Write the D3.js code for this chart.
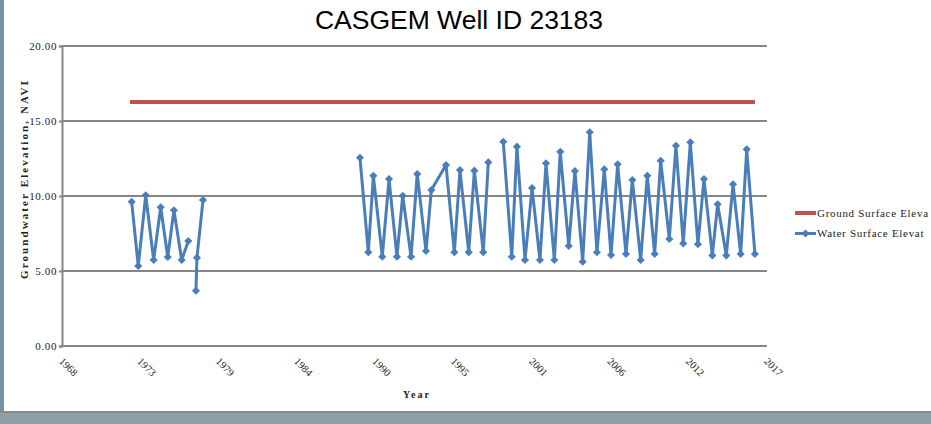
<!DOCTYPE html>
<html>
<head>
<meta charset="utf-8">
<script src="https://cdn.jsdelivr.net/npm/d3@7"></script>
<style>
  body { margin: 0; background: #fff; }
  svg text { font-family: "Liberation Serif", "DejaVu Serif", serif; }
</style>
</head>
<body>
<div class="chart"></div>
<script>
var svgWidth = 931;
var svgHeight = 424;

var margin = { top: 46, right: 164, bottom: 78, left: 62 };
var width = svgWidth - margin.left - margin.right;
var height = svgHeight - margin.top - margin.bottom;

// measurement dates (decimal years), null value = gap in the series
var waterYears = [1972.84, 1973.30, 1973.82, 1974.37, 1974.86, 1975.35, 1975.78, 1976.32, 1976.78, 1977.0,
  1977.31, 1977.38, 1977.80, 1983.0,
  1988.71, 1989.29, 1989.64, 1990.26, 1990.73, 1991.28, 1991.68, 1992.26, 1992.69, 1993.30,
  1993.67, 1994.69, 1995.27, 1995.66, 1996.27, 1996.66, 1997.28, 1997.63, 1998.1,
  1998.67, 1999.26, 1999.62, 2000.18, 2000.67, 2001.22, 2001.64, 2002.22, 2002.63, 2003.22,
  2003.65, 2004.19, 2004.68, 2005.18, 2005.69, 2006.16, 2006.62, 2007.20, 2007.64, 2008.22,
  2008.68, 2009.19, 2009.61, 2010.21, 2010.67, 2011.18, 2011.67, 2012.20, 2012.62, 2013.20,
  2013.57, 2014.17, 2014.64, 2015.17, 2015.59, 2016.16];
var waterLevels = [9.62, 5.33, 10.05, 5.73, 9.25, 5.93, 9.05, 5.73, 7.00, null,
  3.69, 5.89, 9.73, null,
  12.55, 6.25, 11.35, 5.95, 11.13, 5.95, 10.02, 5.95, 11.47, 6.33,
  10.40, 12.07, 6.25, 11.73, 6.25, 11.69, 6.25, 12.25, null,
  13.62, 5.95, 13.29, 5.73, 10.53, 5.73, 12.18, 5.73, 12.95, 6.67,
  11.67, 5.62, 14.25, 6.25, 11.78, 6.07, 12.11, 6.13, 11.07, 5.73,
  11.35, 6.13, 12.35, 7.13, 13.35, 6.84, 13.58, 6.78, 11.13, 6.04,
  9.45, 6.04, 10.78, 6.13, 13.11, 6.13];

var groundYears = [1972.73, 2016.16];
var groundLevels = [16.27, 16.27];

var yTicks = [0, 5, 10, 15, 20];
var xTickLabels = ["1968", "1973", "1979", "1984", "1990", "1995", "2001", "2006", "2012", "2017"];

// legend names as they appear (truncated by the legend box)
var seriesNames = ["Ground Surface Eleva", "Water Surface Elevat"];
var seriesColors = ["#c0504d", "#4a7ebb"];

var svg = d3.select(".chart")
  .append("svg")
  .attr("width", svgWidth)
  .attr("height", svgHeight);

svg.append("rect").attr("width", svgWidth).attr("height", svgHeight).attr("fill", "#fff");
// window edges visible in the screenshot
svg.append("rect").attr("x", 0).attr("y", 0).attr("width", 4).attr("height", svgHeight).attr("fill", "#7890a4");
svg.append("rect").attr("x", 0).attr("y", 411).attr("width", svgWidth).attr("height", 2).attr("fill", "#8c8c8c");
svg.append("rect").attr("x", 0).attr("y", 413).attr("width", svgWidth).attr("height", 11).attr("fill", "#8da0a6");

var chartGroup = svg.append("g")
  .attr("transform", `translate(${margin.left}, ${margin.top})`);

var xScale = d3.scaleLinear().domain([1968, 2017]).range([0, width]);
var yScale = d3.scaleLinear().domain([0, 20]).range([height, 0]);

var xTickValues = xTickLabels.map((d, i) => 1968 + i * 49 / (xTickLabels.length - 1));

// gridlines
chartGroup.selectAll(".grid")
  .data(yTicks)
  .enter()
  .append("line")
  .attr("x1", 0)
  .attr("x2", width)
  .attr("y1", d => yScale(d))
  .attr("y2", d => yScale(d))
  .attr("stroke", "#868686")
  .attr("stroke-width", 2);

var leftAxis = d3.axisLeft(yScale).tickValues(yTicks).tickFormat(d3.format(".2f")).tickSize(3).tickPadding(2);
var yAxisG = chartGroup.append("g").call(leftAxis);
yAxisG.select(".domain").attr("stroke", "#868686").attr("stroke-width", 2);
yAxisG.selectAll(".tick line").attr("stroke", "#868686").attr("stroke-width", 2);
yAxisG.selectAll("text").attr("font-size", 11).attr("fill", "#222").attr("letter-spacing", 0.6)
  .attr("font-family", "Liberation Serif").attr("dy", "0.32em");

var bottomAxis = d3.axisBottom(xScale).tickValues(xTickValues).tickFormat((d, i) => xTickLabels[i]).tickSize(0);
var xAxisG = chartGroup.append("g").attr("transform", `translate(0, ${height})`).call(bottomAxis);
xAxisG.select(".domain").remove();
xAxisG.selectAll("text")
  .attr("font-size", 10.5)
  .attr("font-family", "Liberation Serif")
  .attr("fill", "#222")
  .attr("text-anchor", "start")
  .attr("dy", null)
  .attr("y", null)
  .attr("transform", "translate(-4, 16) rotate(45)");

// ground surface
var line = d3.line()
  .defined(d => d[1] != null)
  .x(d => xScale(d[0]))
  .y(d => yScale(d[1]));

chartGroup.append("path")
  .datum(groundYears.map((d, i) => [d, groundLevels[i]]))
  .attr("d", line)
  .attr("fill", "none")
  .attr("stroke", seriesColors[0])
  .attr("stroke-width", 4);

var waterData = waterYears.map((d, i) => [d, waterLevels[i]]);
chartGroup.append("path")
  .datum(waterData)
  .attr("d", line)
  .attr("fill", "none")
  .attr("stroke", seriesColors[1])
  .attr("stroke-width", 3)
  .attr("stroke-linejoin", "round");

var diamond = d3.symbol().type(d3.symbolDiamond2).size(42);
chartGroup.selectAll(".pt")
  .data(waterData.filter(d => d[1] != null))
  .enter()
  .append("path")
  .attr("d", diamond)
  .attr("transform", d => `translate(${xScale(d[0])}, ${yScale(d[1])})`)
  .attr("fill", seriesColors[1]);

// title
svg.append("text")
  .attr("x", 459)
  .attr("y", 29)
  .attr("text-anchor", "middle")
  .style("font-family", "Liberation Sans, Arial, sans-serif")
  .attr("font-size", 26.5)
  .attr("fill", "#000")
  .text("CASGEM Well ID 23183");

// axis titles
svg.append("clipPath").attr("id", "yclip")
  .append("rect").attr("x", 0).attr("y", 81).attr("width", 60).attr("height", 300);

svg.append("g")
  .attr("clip-path", "url(#yclip)")
  .append("text")
  .attr("transform", "translate(28, 279) rotate(-90)")
  .attr("font-size", 11)
  .attr("font-weight", "bold")
  .attr("letter-spacing", 2.1)
  .attr("fill", "#222")
  .text("Groundwater Elevation, NAVD");

svg.append("text")
  .attr("x", 417)
  .attr("y", 398)
  .attr("text-anchor", "middle")
  .attr("font-size", 10)
  .attr("font-weight", "bold")
  .attr("letter-spacing", 2)
  .attr("fill", "#222")
  .text("Year");

// legend
var legend = svg.append("g").attr("transform", "translate(795, 213)");
seriesNames.forEach(function(name, i) {
  var row = legend.append("g").attr("transform", `translate(0, ${i * 20.5})`);
  row.append("line")
    .attr("x1", 0).attr("x2", 21)
    .attr("stroke", seriesColors[i])
    .attr("stroke-width", i == 0 ? 4 : 3);
  if (i == 1) {
    row.append("path").attr("d", diamond).attr("transform", "translate(10.5, 0)").attr("fill", seriesColors[i]);
  }
  row.append("text")
    .attr("x", 22)
    .attr("y", 3.5)
    .attr("font-size", 11)
    .attr("letter-spacing", 0.7)
    .attr("fill", "#222")
    .text(name);
});
</script>
</body>
</html>
